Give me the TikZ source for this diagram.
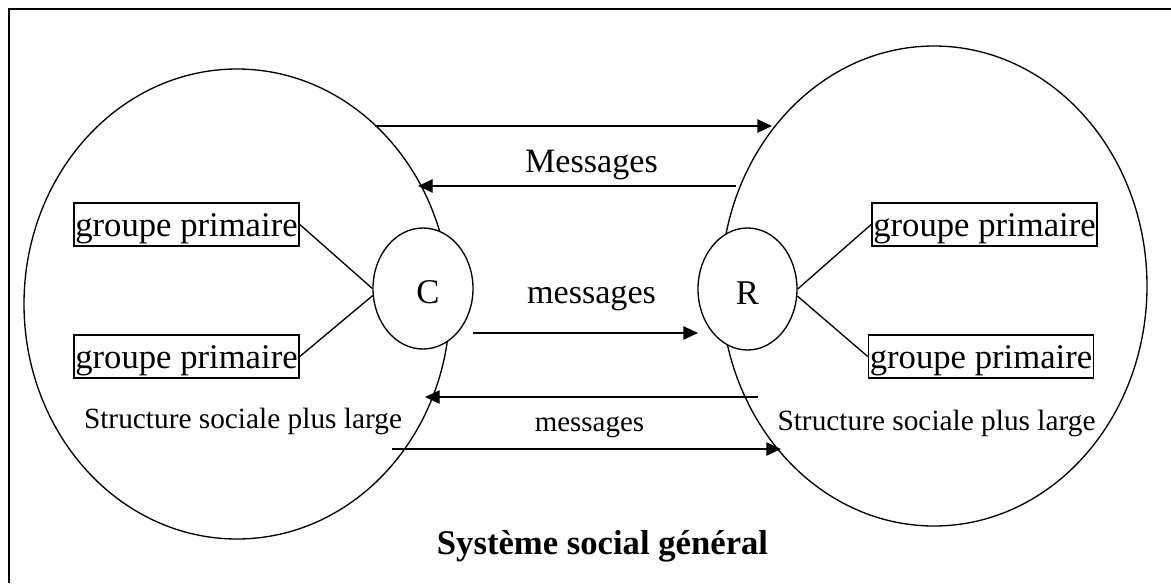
\documentclass[tikz,border=0pt]{standalone}
\usepackage{fontspec}
\setmainfont{Liberation Serif}
\usetikzlibrary{shapes.geometric,arrows.meta}
\begin{document}
\begin{tikzpicture}[x=0.75pt,y=-0.75pt,
  line width=1pt,
  big/.style={draw, ellipse, inner sep=0pt},
  small/.style={draw, ellipse, fill=white, inner sep=0pt, text height=23.2pt, text depth=0pt, font=\fontsize{26}{30}\selectfont},
  gp/.style={draw, line width=1.2pt, inner sep=0pt, inner xsep=1pt, text height=24.75pt, text depth=7.5pt, font=\fontsize{26}{30}\selectfont},
  msg/.style={-{Triangle[length=11pt,width=10pt]}},
  lbl/.style={anchor=base, inner sep=0pt}
]
\useasboundingbox (0,0) rectangle (1171,583);
\draw[line width=1.5pt] (1171,9) -- (9,9) -- (9,583);

% large ellipses
\node[big, minimum width=319.5pt, minimum height=352.5pt] (L) at (237,304) {};
\node[big, minimum width=319.5pt, minimum height=360pt] (Rb) at (934,286) {};

% arrow end points
\coordinate (a1s) at (375,126);
\coordinate (a1e) at (772,126);
\coordinate (a2s) at (736,186);
\coordinate (a2e) at (418,186);
\coordinate (a3s) at (473,333);
\coordinate (a3e) at (698,333);
\coordinate (a4s) at (758,397);
\coordinate (a4e) at (425,397);
\coordinate (a5s) at (392,449);
\coordinate (a5e) at (781,449);

\draw[msg] (a1s) -- (a1e);
\draw[msg] (a2s) -- (a2e);
\draw[msg] (a3s) -- (a3e);
\draw[msg] (a4s) -- (a4e);
\draw[msg] (a5s) -- (a5e);

% small ellipses
\node[small, minimum width=75pt, minimum height=90.75pt] (C) at (423,288.5) {\hspace{7.5pt}C};
\node[small, minimum width=74.25pt, minimum height=91.5pt] (R) at (747.5,289) {R\hspace{15pt}};

% primary groups
\node[gp] (g1) at (186.5,224.5) {groupe primaire};
\node[gp] (g2) at (186.5,356.5) {groupe primaire};
\node[gp] (g3) at (984.5,224.5) {groupe primaire};
\node[gp] (g4) at (981,356.5) {groupe primaire};

\draw (g1.east) -- (C.west);
\draw (C.188) -- (g2.east);
\draw (R.east) -- (g3.west);
\draw (R.-8) -- (g4.west);

% labels
\node[lbl, font=\fontsize{25.6}{30}\selectfont] (m1) at (591.5,172) {Messages};
\node[lbl, font=\fontsize{25.6}{30}\selectfont] (m2) at (591.5,303) {messages};
\node[lbl, font=\fontsize{21.7}{26}\selectfont] (m3) at (589.5,431) {messages};
\node[lbl, font=\fontsize{22}{26}\selectfont] (s1) at (243,428) {Structure sociale plus large};
\node[lbl, font=\fontsize{22}{26}\selectfont] (s2) at (936.5,430) {Structure sociale plus large};
\node[lbl, font=\bfseries\fontsize{26}{30}\selectfont] (t) at (602.5,554) {Système social général};
\end{tikzpicture}
\end{document}
